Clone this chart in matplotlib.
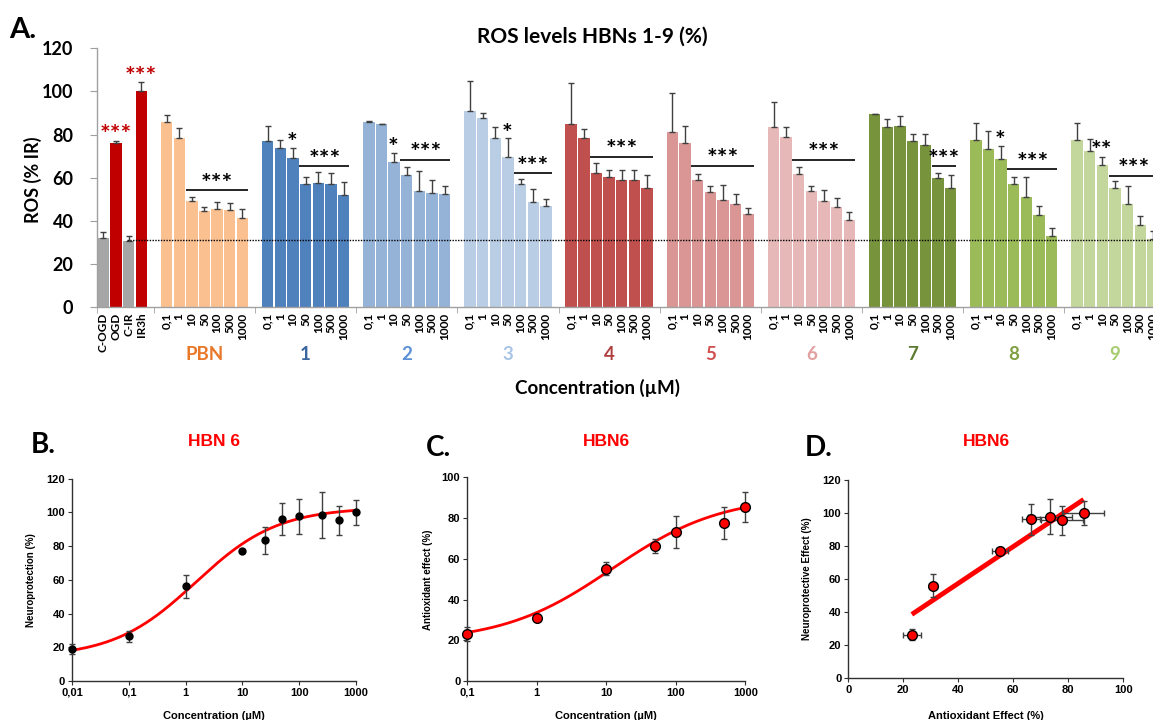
import numpy as np
import matplotlib
matplotlib.use("Agg")
import matplotlib.pyplot as plt
from matplotlib.ticker import FixedLocator, NullLocator

# ---------------- data (panel A) ----------------
control_labels = ["C-OGD", "OGD", "C-IR", "IR3h"]
control_ros = [32.3, 76.3, 30.9, 100.0]
control_err = [2.7, 0.7, 2.1, 4.4]
control_colors = ["#A6A6A6", "#C00000", "#A6A6A6", "#C00000"]
control_stars = [(1, 82.2), (3, 109.2)]

conc_labels = ["0,1", "1", "10", "50", "100", "500", "1000"]
group_names = ["PBN", "1", "2", "3", "4", "5", "6", "7", "8", "9"]

ros_pbn = [86.0, 78.6, 49.4, 44.6, 45.6, 45.3, 41.2]
ros_1 = [77.0, 73.8, 69.3, 57.3, 57.8, 57.3, 51.9]
ros_2 = [86.0, 84.8, 67.5, 61.3, 54.0, 52.8, 52.5]
ros_3 = [91.0, 87.9, 78.6, 69.5, 57.0, 48.8, 47.0]
ros_4 = [84.8, 78.6, 62.1, 60.4, 58.8, 58.8, 55.1]
ros_5 = [81.0, 76.3, 59.2, 53.4, 49.7, 47.9, 43.2]
ros_6 = [83.7, 78.8, 61.9, 53.7, 49.4, 46.3, 40.6]
ros_7 = [89.4, 83.4, 84.2, 77.1, 75.4, 59.8, 55.1]
ros_8 = [77.5, 73.5, 68.6, 57.0, 51.1, 42.6, 33.0]
ros_9 = [77.5, 72.6, 65.9, 55.1, 47.7, 38.1, 31.8]

err_pbn = [3.0, 4.6, 1.6, 1.9, 3.0, 2.9, 4.5]
err_1 = [7.2, 3.6, 4.5, 3.1, 4.7, 4.7, 6.1]
err_2 = [0.3, 0.3, 4.2, 3.7, 9.2, 6.2, 3.9]
err_3 = [13.9, 2.1, 5.1, 8.8, 2.5, 6.2, 3.3]
err_4 = [19.2, 4.2, 4.6, 3.2, 5.0, 4.7, 6.2]
err_5 = [18.2, 7.9, 2.4, 2.7, 7.1, 4.5, 3.0]
err_6 = [11.4, 4.9, 3.1, 2.7, 5.1, 4.2, 3.7]
err_7 = [0.3, 3.9, 4.4, 3.1, 4.8, 2.3, 6.2]
err_8 = [8.1, 8.0, 6.1, 3.4, 9.4, 4.4, 3.6]
err_9 = [8.1, 5.4, 3.9, 3.4, 8.7, 4.4, 3.6]

group_ros = [ros_pbn, ros_1, ros_2, ros_3, ros_4, ros_5, ros_6, ros_7, ros_8, ros_9]
group_err = [err_pbn, err_1, err_2, err_3, err_4, err_5, err_6, err_7, err_8, err_9]

bar_colors = ["#FAC090", "#4F81BD", "#95B3D7", "#B9CDE5", "#C0504D",
              "#D99694", "#E6B9B8", "#77933C", "#9BBB59", "#C3D69B"]
label_colors = ["#E8782A", "#3A66A0", "#5B8FD6", "#A8C4E6", "#B04040",
                "#D05050", "#E3A0A0", "#5E7A30", "#7EA040", "#A8CC70"]

# significance: (first bar index, last bar index, line level)
sig_lines = [(2, 6, 54.2), (3, 6, 65.3), (3, 6, 68.3), (4, 6, 62.0), (2, 6, 69.7),
             (2, 6, 65.5), (2, 6, 68.3), (5, 6, 65.3), (3, 6, 63.9), (3, 6, 61.0)]
# single markers: (group, bar index, text, level of symbol centre)
sig_single = [(1, 2, "*", 78.3), (2, 2, "*", 76.0), (3, 3, "*", 82.6),
              (8, 2, "*", 79.4), (9, 2, "**", 74.7)]
baseline_ros = 31.2

# ---------------- data (panels B-D) ----------------
neuro_conc = [0.01, 0.1, 1, 10, 25, 50, 100, 250, 500, 1000]
neuro_val = [18.8, 26.5, 56.1, 77.3, 83.6, 96.1, 97.7, 98.5, 95.5, 100.0]
neuro_err = [3.0, 3.2, 6.8, 1.0, 8.0, 9.5, 10.5, 13.4, 8.6, 7.3]
neuro_fit = dict(bottom=14.0, top=103.0, ec50=1.5, hill=0.6)

antiox_conc = [0.1, 1, 10, 50, 100, 500, 1000]
antiox_val = [23.1, 30.8, 55.2, 66.4, 73.2, 77.7, 85.6]
antiox_err = [3.3, 1.5, 3.0, 3.4, 8.0, 7.8, 7.4]
antiox_fit = dict(bottom=19.0, top=91.0, ec50=12.0, hill=0.55)

# correlation (D): antioxidant vs neuroprotection at common concentrations
corr_x = antiox_val
corr_xerr = antiox_err
corr_y = [26.5, 56.1, 77.3, 96.1, 97.7, 95.5, 100.0]
corr_yerr = [3.2, 6.8, 1.0, 9.5, 10.5, 8.6, 7.3]

# ---------------- figure ----------------
W, H = 1153, 720
fig = plt.figure(figsize=(W / 100, H / 100), dpi=100)

def px_axes(x0, y0, x1, y1):
    return fig.add_axes([x0 / W, 1 - y1 / H, (x1 - x0) / W, (y1 - y0) / H])

TOP = ["Lato", "DejaVu Sans"]
BOT = ["Liberation Sans", "DejaVu Sans"]
ERRC = "#404040"
STAR_FS = 18

# ---------- Panel A ----------
slot = 12.645
axA = px_axes(97, 48.3, 1153, 307.3)
positions, labels = [], []
xs = np.arange(len(control_ros))
axA.bar(xs, control_ros, width=0.9, color=control_colors, zorder=2)
axA.errorbar(xs, control_ros, yerr=[np.zeros(len(xs)), control_err], fmt="none",
             ecolor=ERRC, elinewidth=1, capsize=2.2, capthick=1, zorder=3)
positions += list(xs)
labels += control_labels
for i, yc in control_stars:
    axA.text(i, yc - 6.0, "***", ha="center", va="baseline", color="#C00000",
             fontsize=STAR_FS, fontweight="bold", family=TOP)

group_starts = []
for g, (vals, errs) in enumerate(zip(group_ros, group_err)):
    start = 5 + 8 * g
    group_starts.append(start)
    gx = start + np.arange(len(vals))
    axA.bar(gx, vals, width=0.9, color=bar_colors[g], zorder=2)
    axA.errorbar(gx, vals, yerr=[np.zeros(len(vals)), errs], fmt="none",
                 ecolor=ERRC, elinewidth=1, capsize=2.2, capthick=1, zorder=3)
    positions += list(gx)
    labels += conc_labels
    a, b, lvl = sig_lines[g]
    axA.plot([start + a - 0.5, start + b + 0.45], [lvl, lvl], color="black", lw=1.2,
             zorder=4, solid_capstyle="butt")
    axA.text(start + (a + b) / 2, lvl - 0.7, "***", ha="center", va="baseline",
             fontsize=STAR_FS, fontweight="bold", family=TOP)
    axA.text(start + 3, -0.184, group_names[g], transform=axA.get_xaxis_transform(),
             ha="center", va="center", color=label_colors[g], fontsize=13.5,
             fontweight="bold", family=TOP)

for g, j, txt, yc in sig_single:
    axA.text(group_starts[g] + j - 0.1, yc - 6.0, txt, ha="center", va="baseline",
             fontsize=STAR_FS, fontweight="bold", family=TOP)

axA.axhline(baseline_ros, xmin=(1.84 + 0.5) / ((W - 97) / slot), xmax=1,
            color="black", lw=1, ls=(0, (1, 1)), zorder=5)

axA.set_xlim(-0.5, (W - 97) / slot - 0.5)
axA.set_ylim(0, 120)
axA.set_yticks(np.arange(0, 121, 20))
axA.set_xticks(positions)
axA.set_xticklabels(labels, rotation=90, fontsize=8.5, fontweight="bold", family=TOP)
axA.tick_params(axis="x", which="major", length=0, pad=4)
axA.xaxis.set_minor_locator(FixedLocator([-0.5] + [4 + 8 * k for k in range(11)]))
axA.tick_params(axis="x", which="minor", length=4, color="#A0A0A0")
axA.tick_params(axis="y", length=5, color="#A0A0A0", labelsize=13, pad=12)
for t in axA.get_yticklabels():
    t.set_fontweight("bold")
    t.set_family(TOP)
for s in ["top", "right"]:
    axA.spines[s].set_visible(False)
for s in ["left", "bottom"]:
    axA.spines[s].set_color("#A0A0A0")
    axA.spines[s].set_linewidth(1)

fig.text(33 / W, 1 - 180 / H, "ROS (% IR)", rotation=90, ha="center", va="center",
         fontsize=13, fontweight="bold", family=TOP)
fig.text(592 / W, 1 - 37 / H, "ROS levels HBNs 1-9 (%)", ha="center", va="center",
         fontsize=15, fontweight="bold", family=TOP)
fig.text(598 / W, 1 - 388 / H, "Concentration (\u00b5M)", ha="center", va="center",
         fontsize=13.5, fontweight="bold", family=TOP)
fig.text(9 / W, 1 - 30 / H, "A.", ha="left", va="center", fontsize=21,
         fontweight="bold", family=TOP)

# ---------- helpers for bottom panels ----------
def logistic(x, bottom, top, ec50, hill):
    return bottom + (top - bottom) / (1 + 10 ** ((np.log10(ec50) - np.log10(x)) * hill))

def style_bottom(ax):
    for s in ["top", "right"]:
        ax.spines[s].set_visible(False)
    for s in ["left", "bottom"]:
        ax.spines[s].set_color("#303030")
        ax.spines[s].set_linewidth(1)
    ax.tick_params(length=3, color="#303030", labelsize=8, pad=2)
    for t in ax.get_xticklabels() + ax.get_yticklabels():
        t.set_fontweight("bold")
        t.set_family(BOT)

# ---------- Panel B ----------
axB = px_axes(72, 478.7, 356, 681)
axB.set_xscale("log")
xx = np.logspace(np.log10(neuro_conc[0]), np.log10(neuro_conc[-1]), 300)
axB.plot(xx, logistic(xx, **neuro_fit), color="#FF0000", lw=2, zorder=3)
axB.errorbar(neuro_conc, neuro_val, yerr=neuro_err, fmt="o", color="black", ms=5,
             ecolor=ERRC, elinewidth=1, capsize=2.5, capthick=1, zorder=4, clip_on=False)
axB.set_xlim(0.01, 1000)
axB.set_ylim(0, 120)
axB.set_yticks(np.arange(0, 121, 20))
axB.set_xticks([0.01, 0.1, 1, 10, 100, 1000])
axB.set_xticklabels(["0,01", "0,1", "1", "10", "100", "1000"])
axB.xaxis.set_minor_locator(NullLocator())
style_bottom(axB)
fig.text(31 / W, 1 - 580 / H, "Neuroprotection (%)", rotation=90, ha="center",
         va="center", fontsize=7, fontweight="bold", family=BOT)
fig.text(214 / W, 1 - 716 / H, "Concentration (\u00b5M)", ha="center", va="center",
         fontsize=8, fontweight="bold", family=BOT)
fig.text(214 / W, 1 - 441 / H, "HBN 6", ha="center", va="center", color="#FF0000",
         fontsize=12.5, fontweight="bold", family=BOT)
fig.text(31 / W, 1 - 445 / H, "B.", ha="left", va="center", fontsize=20,
         fontweight="bold", family=TOP)

# ---------- Panel C ----------
axC = px_axes(467.3, 477.3, 745.3, 681)
axC.set_xscale("log")
xx = np.logspace(np.log10(antiox_conc[0]), np.log10(antiox_conc[-1]), 300)
axC.plot(xx, logistic(xx, **antiox_fit), color="#FF0000", lw=2, zorder=3)
axC.errorbar(antiox_conc, antiox_val, yerr=antiox_err, fmt="o", mfc="#FF0000",
             mec="black", mew=1, ms=7, ecolor=ERRC, elinewidth=1, capsize=2.5,
             capthick=1, zorder=4, clip_on=False)
axC.set_xlim(0.1, 1000)
axC.set_ylim(0, 100)
axC.set_yticks(np.arange(0, 101, 20))
axC.set_xticks([0.1, 1, 10, 100, 1000])
axC.set_xticklabels(["0,1", "1", "10", "100", "1000"])
axC.xaxis.set_minor_locator(NullLocator())
style_bottom(axC)
fig.text(428 / W, 1 - 580 / H, "Antioxidant effect (%)", rotation=90, ha="center",
         va="center", fontsize=7, fontweight="bold", family=BOT)
fig.text(606 / W, 1 - 716 / H, "Concentration (\u00b5M)", ha="center", va="center",
         fontsize=8, fontweight="bold", family=BOT)
fig.text(606.7 / W, 1 - 441 / H, "HBN6", ha="center", va="center", color="#FF0000",
         fontsize=12.5, fontweight="bold", family=BOT)
fig.text(426 / W, 1 - 448 / H, "C.", ha="left", va="center", fontsize=20,
         fontweight="bold", family=TOP)

# ---------- Panel D ----------
axD = px_axes(848.3, 480, 1123.3, 678.3)
slope, intercept = np.polyfit(corr_x, corr_y, 1)
lx = np.array([min(corr_x), max(corr_x)])
axD.plot(lx, slope * lx + intercept, color="#FF0000", lw=3.5, zorder=3,
         solid_capstyle="butt")
axD.errorbar(corr_x, corr_y, xerr=corr_xerr, yerr=corr_yerr, fmt="o", mfc="#FF0000",
             mec="black", mew=1, ms=7, ecolor=ERRC, elinewidth=1, capsize=2.5,
             capthick=1, zorder=4)
axD.set_xlim(0, 100)
axD.set_ylim(0, 120)
axD.set_xticks(np.arange(0, 101, 20))
axD.set_yticks(np.arange(0, 121, 20))
style_bottom(axD)
fig.text(807 / W, 1 - 579 / H, "Neuroprotective Effect (%)", rotation=90, ha="center",
         va="center", fontsize=7, fontweight="bold", family=BOT)
fig.text(986 / W, 1 - 716 / H, "Antioxidant Effect (%)", ha="center", va="center",
         fontsize=8, fontweight="bold", family=BOT)
fig.text(986.7 / W, 1 - 441 / H, "HBN6", ha="center", va="center", color="#FF0000",
         fontsize=12.5, fontweight="bold", family=BOT)
fig.text(805 / W, 1 - 448 / H, "D.", ha="left", va="center", fontsize=20,
         fontweight="bold", family=TOP)

fig.savefig("out.png", dpi=100)
